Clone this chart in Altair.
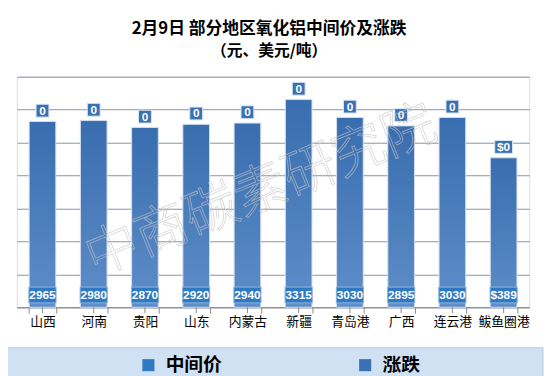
import altair as alt
import pandas as pd

# ---- data ----
regions = ["山西", "河南", "贵阳", "山东", "内蒙古", "新疆", "青岛港", "广西", "连云港", "鲅鱼圈港"]
prices = [2965, 2980, 2870, 2920, 2940, 3315, 3030, 2895, 3030, 389]
changes = [0, 0, 0, 0, 0, 0, 0, 0, 0, 0]
units = ["CNY", "CNY", "CNY", "CNY", "CNY", "CNY", "CNY", "CNY", "CNY", "USD"]
series_names = ["中间价", "涨跌"]
title_main = "2月9日  部分地区氧化铝中间价及涨跌"
title_sub = "（元、美元/吨）"
watermark = "中商碳素研究院"

df = pd.DataFrame({"region": regions, "price": prices, "change": changes, "unit": units})
df["price_label"] = [("$" if u == "USD" else "") + str(p) for p, u in zip(prices, units)]
df["change_label"] = [("$" if u == "USD" else "") + str(c) for c, u in zip(changes, units)]
df["s_price"] = series_names[0]
df["s_change"] = series_names[1]

W, H = 520, 234
D_RMB = 3680
D_USD = 600
CJK = "Noto Sans CJK SC"
NUM = "Liberation Sans"

color_scale = alt.Scale(domain=series_names, range=["#2f79c2", "#3a70b4"])

x_enc = alt.X(
    "region:N", sort=regions, title=None,
    scale=alt.Scale(paddingInner=0.48, paddingOuter=0.24),
    axis=alt.Axis(labelAngle=0, labelFont=CJK, labelFontSize=13, labelColor="#000000",
                  domainColor="#8a8a8a", tickColor="#8a8a8a", tickSize=6,
                  tickBand="extent", labelPadding=3),
)

rmb_scale = alt.Scale(domain=[0, D_RMB], nice=False, zero=True)
rmb_axis = alt.Axis(values=[D_RMB * i / 7 for i in range(8)], labels=False,
                    ticks=False, domain=False, grid=True,
                    gridColor="#8594aa", gridWidth=1)
y_rmb = alt.Y("price:Q", title=None, scale=rmb_scale, axis=rmb_axis)
y_base0 = alt.YDatum(datum=0, type="quantitative", title=None,
                     scale=alt.Scale(domain=[0, D_RMB], nice=False), axis=None)
y_usd = alt.Y("price:Q", title=None, scale=alt.Scale(domain=[0, D_USD], nice=False), axis=None)

grad = alt.Gradient(gradient="linear",
                    stops=[alt.GradientStop(color="#386daf", offset=0),
                           alt.GradientStop(color="#5f8ec9", offset=1)],
                    x1=0, x2=0, y1=0, y2=1)

base = alt.Chart(df)
rmb = base.transform_filter(alt.datum.unit == "CNY")
usd = base.transform_filter(alt.datum.unit == "USD")

def bars(src, y):
    return src.mark_bar(fill=grad, stroke="#d3dded", strokeWidth=1).encode(x=x_enc, y=y)

def top_box(src, y, shape):
    return src.mark_point(shape=shape, size=169, filled=True, opacity=1,
                          stroke="#d8e3f0", strokeWidth=1, yOffset=-11).encode(
        x=x_enc, y=y,
        color=alt.Color("s_change:N", scale=color_scale, title=None,
                        legend=alt.Legend(orient="none", direction="horizontal",
                                          legendX=124, legendY=283, symbolType="square",
                                          symbolSize=150, labelFont=CJK, labelFontSize=19,
                                          labelFontWeight="bold", labelColor="#000000",
                                          labelOffset=8, columnPadding=135, labelLimit=200,
                                          symbolStrokeWidth=0)))

def top_text(src, y):
    return src.mark_text(font=NUM, fontSize=12, fontWeight="bold", color="white",
                         baseline="middle", yOffset=-11).encode(x=x_enc, y=y, text="change_label:N")

bottom_box = base.mark_point(shape="M-1.72,-1H1.72V1H-1.72Z", size=256, filled=True, opacity=1,
                             stroke="#8ab4de", strokeWidth=1, yOffset=-12.5).encode(
    x=x_enc, y=y_base0,
    color=alt.Color("s_price:N", scale=color_scale, title=None))
bottom_text = base.mark_text(font=NUM, fontSize=12, fontWeight="bold", color="white",
                             baseline="middle", yOffset=-12.5).encode(
    x=x_enc, y=y_base0, text="price_label:N")
bottom_layer = alt.layer(bottom_box, bottom_text)

center_ticks = base.mark_rule(color="#8a8a8a").encode(
    x=x_enc, y=alt.value(H), y2=alt.value(H + 6))

band_df = pd.DataFrame({"t": [watermark]})
legend_band = alt.Chart(band_df).mark_rect(fill="#cfe1f3", stroke="#b7cde4").encode(
    x=alt.value(-15), x2=alt.value(534), y=alt.value(275), y2=alt.value(306))
wm = alt.Chart(band_df).mark_text(font=CJK, fontSize=54, fontWeight=300, angle=338,
                                  fillOpacity=0, stroke="#c4c4c4", strokeOpacity=0.7,
                                  strokeWidth=0.8).encode(
    x=alt.value(248), y=alt.value(117), text="t:N")

rmb_layer = alt.layer(bars(rmb, y_rmb), top_box(rmb, y_rmb, "square"), top_text(rmb, y_rmb))
usd_layer = alt.layer(bars(usd, y_usd), top_box(usd, y_usd, "M-1.385,-1H1.385V1H-1.385Z"),
                      top_text(usd, y_usd))

chart = alt.layer(legend_band, rmb_layer, usd_layer, bottom_layer, center_ticks, wm).resolve_scale(
    y="independent"
).properties(
    width=W, height=H,
    title=alt.TitleParams(text=title_main, subtitle=title_sub, anchor="middle",
                          font=CJK, fontSize=17, fontWeight="bold", color="#000000",
                          subtitleFont=CJK, subtitleFontSize=16, subtitleFontWeight="bold",
                          subtitleColor="#000000", subtitlePadding=5, offset=17, dx=-4),
    autosize=alt.AutoSizeParams(type="none"),
    padding={"left": 9, "top": 67, "right": 16, "bottom": 67},
).configure_view(stroke=None).configure(background="white")

chart.save("out.html", embed_options={"renderer": "svg", "actions": False})
